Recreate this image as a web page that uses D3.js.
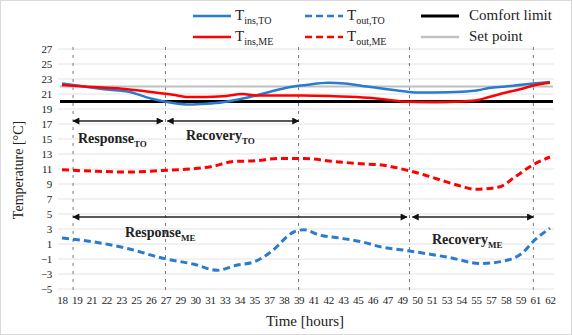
<!DOCTYPE html>
<html lang="en">
<head>
    <meta charset="UTF-8">
    <script src="https://d3js.org/d3.v7.min.js"></script>
    <title>Temperature response</title>
    <style>
        body { margin: 0; background: #fff; }
        svg text { font-family: "Liberation Serif", "DejaVu Serif", serif !important; fill: #222; }
        .tick text { font-size: 11px; }
        text.ann { font-weight: bold; font-size: 14px; }
        text.leg { font-size: 15px; }
    </style>
</head>
<body>
<svg height="335" width="572"></svg>
<script>
    const width = 572, height = 335;

    // data
    const xLabels = ["18","19","21","22","23","25","26","27","29","30","31","33","34","35","37","38","39",
                     "41","42","43","45","46","47","49","50","51","53","54","55","57","58","59","61","62"];
    const yTicks = [-5,-3,-1,1,3,5,7,9,11,13,15,17,19,21,23,25,27];

    const insTO = [[18,22.4],[20,22.0],[22,21.6],[24,21.3],[26,20.4],[28,19.8],[29.5,19.6],[31,19.7],
                   [32.5,19.9],[34,20.3],[35.5,20.8],[37,21.4],[38.5,21.9],[40,22.2],[42,22.5],[43.5,22.4],
                   [45.5,22.0],[47,21.7],[48.6,21.4],[50,21.2],[51.6,21.2],[54,21.3],[55.5,21.5],[56.5,21.8],
                   [58,22.0],[59.2,22.2],[60.5,22.4],[62,22.6]];
    const insME = [[18,22.2],[20,22.0],[23.4,21.7],[26.4,21.2],[28,20.9],[29.4,20.6],[31,20.6],[32.5,20.7],
                   [34.3,21.0],[35.5,20.8],[37.5,20.8],[39.7,20.8],[42.5,20.7],[45.6,20.5],[47.5,20.2],
                   [48.6,20.0],[51.6,19.9],[54,20.0],[55.5,20.2],[56.5,20.6],[58.3,21.3],[59.5,21.7],
                   [60.7,22.2],[62,22.5]];
    const outME = [[18,10.9],[21,10.7],[23.9,10.6],[27.1,10.8],[29.5,11.0],[31.4,11.3],[33.5,12.0],[35.5,12.1],
                   [37.5,12.4],[39.8,12.4],[42.5,12.0],[45,11.7],[47,11.5],[49.2,10.8],[50.7,10.2],[52.2,9.5],
                   [54,8.7],[55.2,8.3],[57.4,8.6],[58.9,10.0],[60.4,11.5],[62,12.6]];
    const outTO = [[18,1.8],[20.8,1.3],[23.9,0.4],[27.1,-0.9],[29.9,-1.7],[32,-2.5],[33.8,-1.8],[35.3,-1.4],
                   [36.8,-0.1],[38.9,2.6],[39.8,2.9],[41.2,2.2],[43,1.8],[45,1.3],[46.8,0.6],[49.2,0.1],
                   [52.9,-0.8],[55.8,-1.6],[58.3,-1.1],[59.5,-0.2],[60.6,1.5],[62,3.1]];
    const comfortLimit = 20, setPoint = 22;
    const markerHours = [19, 27.33, 39.33, 49.33, 60.5];
    // [from, to, temperature level, label, subscript]
    const spans = [[19, 27.1, 17.4, "Response", "TO"], [27.5, 39.33, 17.4, "Recovery", "TO"],
                   [19, 49.1, 4.6, "Response", "ME"], [49.6, 60.5, 4.6, "Recovery", "ME"]];

    const svg = d3.select("svg");
    const x = d3.scaleLinear().domain([18, 62]).range([62, 550]);
    const y = d3.scaleLinear().domain([-5, 27]).range([289, 49]);
    const xCat = d3.scalePoint().domain(xLabels).range([62, 550]);

    svg.append("rect").attr("x", 0.5).attr("y", 0.5).attr("width", width - 1).attr("height", height - 1)
        .attr("fill", "#fff").attr("stroke", "#d9d9d9");

    // grid
    svg.append("g").selectAll("line").data(yTicks).enter().append("line")
        .attr("x1", 58).attr("x2", 554).attr("y1", y).attr("y2", y)
        .attr("stroke", "#e3e3e3").attr("stroke-width", 1);

    // axes
    const gy = svg.append("g").attr("transform", "translate(54,0)")
        .call(d3.axisLeft(y).tickValues(yTicks).tickSize(0).tickPadding(2));
    gy.select(".domain").remove();
    const gx = svg.append("g").attr("transform", "translate(0,294)")
        .call(d3.axisBottom(xCat).tickSize(0).tickPadding(2));
    gx.select(".domain").remove();
    svg.selectAll("g").attr("font-family", null);
    svg.selectAll(".tick text").attr("fill", "#333").style("letter-spacing", "-0.3px");

    svg.append("text").attr("transform", "translate(23,170) rotate(-90)")
        .attr("text-anchor", "middle").style("font-size", "14px").text("Temperature [°C]");
    svg.append("text").attr("x", 305).attr("y", 326).attr("text-anchor", "middle")
        .style("font-size", "15px").text("Time [hours]");

    // vertical markers
    svg.append("g").selectAll("line").data(markerHours).enter().append("line")
        .attr("x1", x).attr("x2", x).attr("y1", 47).attr("y2", 290)
        .attr("stroke", "#777").attr("stroke-width", 1).attr("stroke-dasharray", "3,5");

    // reference lines
    svg.append("line").attr("x1", 60).attr("x2", 553).attr("y1", y(setPoint)).attr("y2", y(setPoint))
        .attr("stroke", "#c0c0c0").attr("stroke-width", 2);
    svg.append("line").attr("x1", 60).attr("x2", 553).attr("y1", y(comfortLimit)).attr("y2", y(comfortLimit))
        .attr("stroke", "#000").attr("stroke-width", 3);

    const line = d3.line().x(d => x(d[0])).y(d => y(d[1])).curve(d3.curveMonotoneX);
    const series = [
        [outTO, "#2a7bd0", "7,4"],
        [insTO, "#2a7bd0", null],
        [outME, "#ff0000", "7,4"],
        [insME, "#ff0000", null]
    ];
    series.forEach(s => {
        svg.append("path").datum(s[0]).attr("d", line).attr("fill", "none")
            .attr("stroke", s[1]).attr("stroke-width", s[2] ? 3 : 2.5)
            .attr("stroke-dasharray", s[2]);
    });

    // arrows
    const defs = svg.append("defs");
    defs.append("marker").attr("id", "ah").attr("viewBox", "0 0 10 10").attr("refX", 9).attr("refY", 5)
        .attr("markerWidth", 9).attr("markerHeight", 7).attr("markerUnits", "userSpaceOnUse")
        .attr("orient", "auto-start-reverse")
        .append("path").attr("d", "M0,0L10,5L0,10Z").attr("fill", "#111");
    svg.append("g").selectAll("line").data(spans).enter().append("line")
        .attr("x1", d => x(d[0])).attr("x2", d => x(d[1])).attr("y1", d => y(d[2])).attr("y2", d => y(d[2]))
        .attr("stroke", "#222").attr("stroke-width", 1.5)
        .attr("marker-start", "url(#ah)").attr("marker-end", "url(#ah)");

    const annPos = [[78, 143], [186, 140], [125, 237], [432, 244]];
    spans.forEach((d, i) => {
        const t = svg.append("text").attr("class", "ann").attr("x", annPos[i][0]).attr("y", annPos[i][1]);
        t.append("tspan").text(d[3]);
        t.append("tspan").attr("dy", 4).style("font-size", "9px").text(d[4]);
    });

    // legend
    const legend = [
        ["T", "ins,TO", "#2a7bd0", null, 193, 16],
        ["T", "out,TO", "#2a7bd0", "7,4", 305, 16],
        ["Comfort limit", "", "#000", null, 421, 16],
        ["T", "ins,ME", "#ff0000", null, 193, 37],
        ["T", "out,ME", "#ff0000", "7,4", 305, 37],
        ["Set point", "", "#c0c0c0", null, 421, 37]
    ];
    legend.forEach(l => {
        svg.append("line").attr("x1", l[4]).attr("x2", l[4] + 38).attr("y1", l[5]).attr("y2", l[5])
            .attr("stroke", l[2]).attr("stroke-width", l[2] === "#000" ? 3 : 2.5)
            .attr("stroke-dasharray", l[3]);
        const t = svg.append("text").attr("class", "leg").attr("x", l[4] + 42 + (l[1] ? 0 : 6)).attr("y", l[5] + 4);
        t.append("tspan").text(l[0]);
        if (l[1]) t.append("tspan").attr("dy", 4).style("font-size", "10px").text(l[1]);
    });
</script>
</body>
</html>
